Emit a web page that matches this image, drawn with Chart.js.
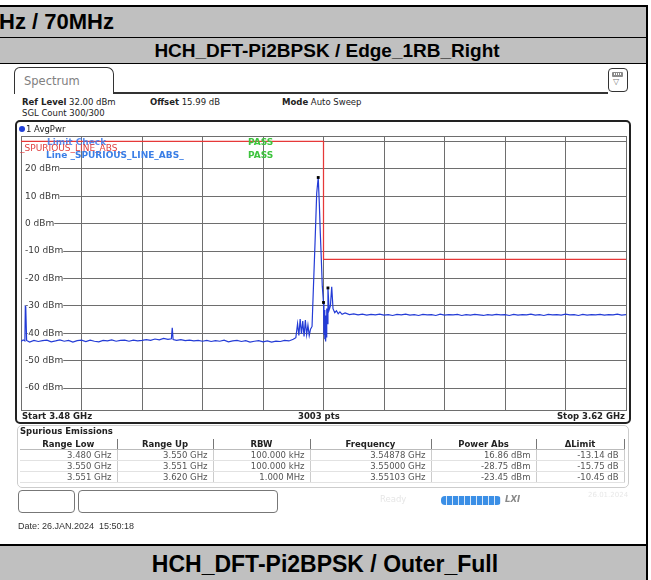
<!DOCTYPE html>
<html>
<head>
<meta charset="utf-8">
<script src="https://cdn.jsdelivr.net/npm/chart.js@4.4.0/dist/chart.umd.min.js"></script>
<style>
  body { margin: 0; width: 651px; height: 580px; background: #fff; overflow: hidden; position: relative; font-family: "Liberation Sans", Arial, sans-serif; }
  .abs { position: absolute; }
  .band { position: absolute; left: 0; width: 646px; background: #c0c0c0; font-weight: bold; color: #000; white-space: nowrap; }
  .rs { font-family: "DejaVu Sans", Verdana, sans-serif; font-size: 8.5px; color: #222; white-space: nowrap; }
  .rs b { font-weight: bold; }
  table.spur { position: absolute; left: 20px; top: 439px; width: 604px; border-collapse: collapse; table-layout: fixed;
    font-family: "DejaVu Sans", Verdana, sans-serif; font-size: 8.5px; }
  table.spur th { font-weight: bold; color: #222; height: 10px; line-height: 10px; padding: 0; border-right: 1px solid #777; border-bottom: 1px solid #bbb; text-align: center; }
  table.spur td { color: #555; height: 10px; line-height: 10px; padding: 0 5px 0 0; text-align: right; border-right: 1px solid #ccc; border-bottom: 1px solid #e2e2e2; }
</style>
</head>
<body>
<!-- report table frame -->
<div class="abs" style="left:0;top:5px;width:648px;height:2px;background:#000"></div>
<div class="band" style="top:7px;height:30px;font-size:22px;line-height:30px;">
  <span style="position:absolute;left:-1px;">Hz / 70MHz</span>
</div>
<div class="abs" style="left:0;top:37px;width:648px;height:1px;background:#000"></div>
<div class="band" style="top:38px;height:25px;font-size:19px;line-height:26px;text-align:center;padding-left:8px;width:638px;">HCH_DFT-Pi2BPSK / Edge_1RB_Right</div>
<div class="abs" style="left:0;top:63px;width:648px;height:1px;background:#000"></div>
<div class="abs" style="left:0;top:544px;width:648px;height:2px;background:#000"></div>
<div class="band" style="top:546px;height:34px;font-size:23px;line-height:36px;text-align:center;padding-left:4px;width:642px;">HCH_DFT-Pi2BPSK / Outer_Full</div>
<div class="abs" style="left:646px;top:5px;width:2px;height:575px;background:#000"></div>

<!-- analyzer header -->
<div class="abs" style="left:14px;top:67px;width:98px;height:26px;border:1.5px solid #333;border-bottom:none;border-radius:6px 7px 0 0;"></div>
<div class="abs rs" style="left:24px;top:74px;font-size:11.5px;color:#808080;">Spectrum</div>
<div class="abs" style="left:113px;top:92px;width:495px;height:1.5px;background:#333"></div>
<div class="abs" style="left:608px;top:68px;width:18px;height:22px;border:1.5px solid #333;border-radius:4px;"></div>
<div class="abs" style="left:612px;top:72px;width:11px;height:5px;background:#8a8a8a;border-radius:1px;"></div>
<div class="abs" style="left:614px;top:73px;width:7px;height:2px;background:repeating-linear-gradient(90deg,#fff 0 1px,transparent 1px 2px);"></div>
<div class="abs" style="left:613px;top:77px;font-size:8px;color:#777;font-family:'DejaVu Sans';">&#9661;</div>

<div class="abs rs" style="left:22px;top:97px;"><b>Ref Level</b> 32.00 dBm</div>
<div class="abs rs" style="left:150px;top:97px;"><b>Offset</b> 15.99 dB</div>
<div class="abs rs" style="left:282px;top:97px;"><b>Mode</b> Auto Sweep</div>
<div class="abs rs" style="left:22px;top:108px;">SGL Count 300/300</div>

<!-- plot frame -->
<div class="abs" style="left:15px;top:120px;width:612px;height:300px;border:2px solid #222;border-radius:5px;"></div>
<div class="abs" style="left:17px;top:122px;width:613px;height:301px;">
  <canvas id="spec" width="613" height="301"></canvas>
</div>
<div class="abs" style="left:19px;top:126px;width:6px;height:6px;border-radius:50%;background:#1f3fd8;"></div>
<div class="abs rs" style="left:26px;top:124px;">1 AvgPwr</div>
<div class="abs rs" style="left:47px;top:137px;color:rgba(60,120,235,0.85);font-weight:bold;font-size:9px;">Limit Check</div>
<div class="abs rs" style="left:20px;top:143px;color:#e04040;font-size:9px;">_SPURIOUS_LINE_ABS_</div>
<div class="abs rs" style="left:46px;top:150px;color:#3a7ee6;font-weight:bold;font-size:9px;">Line _SPURIOUS_LINE_ABS_</div>
<div class="abs rs" style="left:248px;top:137px;color:#3ec43e;font-weight:bold;font-size:9px;">PASS</div>
<div class="abs rs" style="left:248px;top:150px;color:#3ec43e;font-weight:bold;font-size:9px;">PASS</div>
<div class="abs rs" style="left:22px;top:411px;font-weight:bold;">Start 3.48 GHz</div>
<div class="abs rs" style="left:298px;top:411px;font-weight:bold;">3003 pts</div>
<div class="abs rs" style="left:540px;top:411px;width:85px;text-align:right;font-weight:bold;">Stop 3.62 GHz</div>

<!-- spurious table -->
<div class="abs" style="left:17px;top:425px;width:610px;height:61px;border:1px solid #ccc;border-radius:5px;"></div>
<div class="abs rs" style="left:20px;top:426px;font-weight:bold;">Spurious Emissions</div>
<table class="spur" id="spurTable">
  <colgroup><col style="width:97px"><col style="width:96px"><col style="width:97px"><col style="width:121px"><col style="width:105px"><col style="width:88px"></colgroup>
  <thead><tr id="spurHead"></tr></thead>
  <tbody id="spurBody"></tbody>
</table>

<!-- status bar -->
<div class="abs" style="left:18px;top:490px;width:55px;height:21px;border:1px solid #777;border-radius:4px;"></div>
<div class="abs" style="left:78px;top:490px;width:198px;height:21px;border:1px solid #777;border-radius:4px;"></div>
<div class="abs rs" style="left:380px;top:494px;color:#e6e6e6;">Ready</div>
<div class="abs" style="left:441px;top:496px;width:60px;height:9px;border-radius:4px;background:repeating-linear-gradient(90deg,#3b8fe6 0 5px,#d8e8fa 5px 6px);"></div>
<div class="abs rs" style="left:505px;top:494px;color:#888;font-weight:bold;font-style:italic;">LXI</div>
<div class="abs rs" style="left:588px;top:491px;color:#e8e8e8;font-size:7px;">26.01.2024</div>

<div class="abs" style="left:18px;top:521px;font-size:9px;color:#333;">Date: 26.JAN.2024&nbsp;&nbsp;15:50:18</div>

<script>
// trace 1 (AvgPwr), frequency in MHz, level in dBm
const traceMHz = [
  3480, 3480.5, 3480.9, 3481.0, 3481.1, 3481.3,
  3482, 3483, 3484, 3485, 3486, 3487, 3488, 3489, 3490, 3491,
  3492, 3493, 3494, 3495, 3496, 3497, 3498, 3499, 3500, 3501,
  3502, 3503, 3504, 3505, 3506, 3507, 3508, 3509, 3510, 3511,
  3512, 3513, 3514, 3514.8, 3515.0, 3515.2,
  3516, 3517, 3518, 3519, 3520, 3521, 3522, 3523, 3524, 3525,
  3526, 3527, 3528, 3529, 3530, 3531, 3532, 3533, 3534, 3535,
  3536, 3537, 3538, 3539, 3540, 3541, 3542, 3543,
  3543.6, 3544.0, 3544.3, 3544.6, 3544.9, 3545.2, 3545.5, 3545.8, 3546.1, 3546.4,
  3546.7, 3547.0, 3547.35, 3547.65, 3548.04, 3548.43, 3548.78, 3549.03, 3549.26, 3549.5,
  3549.72, 3550.0, 3550.1, 3550.2, 3550.3, 3550.4, 3550.5, 3550.6, 3550.7, 3550.8,
  3550.9, 3551.03, 3551.3, 3551.6, 3551.9, 3552.2, 3552.6, 3553.0, 3553.4, 3553.8,
  3554.3,
  3555, 3556, 3557, 3558, 3559, 3560, 3561, 3562, 3563, 3564,
  3565, 3566, 3567, 3568, 3569, 3570, 3571, 3572, 3573, 3574,
  3575, 3576, 3577, 3578, 3579, 3580, 3581, 3582, 3583, 3584,
  3585, 3586, 3587, 3588, 3589, 3590, 3591, 3592, 3593, 3594,
  3595, 3596, 3597, 3598, 3599, 3600, 3601, 3602, 3603, 3604,
  3605, 3606, 3607, 3608, 3609, 3610, 3611, 3612, 3613, 3614,
  3615, 3616, 3617, 3618, 3619, 3620
];
const traceDbm = [
  -43.0, -42.4, -42.8, -30.2, -30.4, -42.6,
  -43.2, -42.6, -43.0, -42.7, -42.5, -43.1, -42.8, -42.4, -42.9, -42.6,
  -43.2, -42.7, -42.5, -43.0, -42.5, -42.9, -43.1, -42.6, -42.8, -42.4,
  -42.9, -42.6, -42.5, -42.9, -42.5, -42.8, -42.6, -42.3, -42.6, -42.1,
  -42.4, -41.9, -42.2, -42.0, -38.0, -42.3,
  -42.6, -42.3, -42.7, -42.5, -42.8, -42.6, -42.9, -42.6, -43.0, -42.7,
  -42.9, -42.5, -43.1, -42.8, -42.6, -43.0, -42.7, -43.2, -42.9, -42.7,
  -43.1, -42.8, -43.2, -42.9, -43.0, -42.6, -42.8, -42.2,
  -41.6, -36.5, -40.8, -34.8, -40.2, -35.5, -41.2, -35.2, -40.5, -37.0,
  -40.8, -38.5, -37.5, -24.0, -7.0, 11.2, 16.86, 7.5, -3.4, -13.1,
  -22.8, -28.75, -40.5, -31.5, -42.2, -33.5, -43.0, -34.5, -41.5, -31.0,
  -36.5, -23.45, -31.5, -30.0, -23.0, -31.0, -32.5, -31.8, -32.9, -32.2,
  -33.1,
  -32.6, -33.2, -32.9, -33.3, -33.0, -33.4, -33.1, -33.3, -33.0, -33.4,
  -33.2, -33.5, -33.1, -33.3, -33.0, -33.4, -33.2, -33.5, -33.1, -33.3,
  -33.2, -33.5, -33.0, -33.4, -33.2, -33.3, -33.1, -33.5, -33.2, -33.4,
  -33.1, -33.3, -33.5, -33.2, -33.4, -33.1, -33.3, -33.2, -33.5, -33.1,
  -33.4, -33.2, -33.3, -33.0, -33.4, -33.2, -33.5, -33.1, -33.3, -33.2,
  -33.4, -33.0, -33.3, -33.2, -33.5, -33.1, -33.4, -33.2, -33.3, -33.1,
  -33.4, -33.2, -33.3, -33.0, -33.4, -33.2
];

// limit line _SPURIOUS_LINE_ABS_
const limitMHz = [3480, 3550, 3550, 3620];
const limitDbm = [30, 30, -13, -13];

// peak markers
const markerMHz = [3548.78, 3550.00, 3551.03];
const markerDbm = [16.86, -28.75, -23.45];

// grid
const xGridMHz = [3480, 3494, 3508, 3522, 3536, 3550, 3564, 3578, 3592, 3606, 3620];
const yGridDbm = [-60, -50, -40, -30, -20, -10, 0, 10, 20, 30];
const yTickLabels = ['-60 dBm', '-50 dBm', '-40 dBm', '-30 dBm', '-20 dBm', '-10 dBm', '0 dBm', '10 dBm', '20 dBm', ''];

// spurious emissions table
const tableHead = ['Range Low', 'Range Up', 'RBW', 'Frequency', 'Power Abs', '\u0394Limit'];
const rangeLow = ['3.480 GHz', '3.550 GHz', '3.551 GHz'];
const rangeUp = ['3.550 GHz', '3.551 GHz', '3.620 GHz'];
const rbw = ['100.000 kHz', '100.000 kHz', '1.000 MHz'];
const peakFreq = ['3.54878 GHz', '3.55000 GHz', '3.55103 GHz'];
const powerAbs = ['16.86 dBm', '-28.75 dBm', '-23.45 dBm'];
const deltaLimit = ['-13.14 dB', '-15.75 dB', '-10.45 dB'];

document.getElementById('spurHead').innerHTML = tableHead.map(h => '<th>' + h + '</th>').join('');
document.getElementById('spurBody').innerHTML = rangeLow.map((v, i) =>
  '<tr><td>' + [v, rangeUp[i], rbw[i], peakFreq[i], powerAbs[i], deltaLimit[i]].join('</td><td>') + '</td></tr>').join('');

const gridColor = '#6e6e6e';

const framePlugin = {
  id: 'frame',
  beforeDatasetsDraw(chart) {
    const a = chart.chartArea, c = chart.ctx;
    c.save();
    c.strokeStyle = gridColor;
    c.lineWidth = 1;
    c.strokeRect(Math.round(a.left) + 0.5, Math.round(a.top) + 0.5, Math.round(a.right - a.left), Math.round(a.bottom - a.top));
    c.restore();
  }
};

var ctx = document.getElementById('spec').getContext('2d');
var chart = new Chart(ctx, {
  type: 'line',
  data: {
    datasets: [{
      label: 'Limit',
      data: limitMHz.map((f, i) => ({x: f, y: limitDbm[i]})),
      borderColor: 'rgb(230,56,56)',
      borderWidth: 1.25,
      pointRadius: 0,
      order: 3
    }, {
      label: '1 AvgPwr',
      data: traceMHz.map((f, i) => ({x: f, y: traceDbm[i]})),
      borderColor: 'rgb(36,60,214)',
      borderWidth: 1.2,
      pointRadius: 0,
      order: 2
    }, {
      label: 'Markers',
      data: markerMHz.map((f, i) => ({x: f, y: markerDbm[i]})),
      showLine: false,
      pointStyle: 'rect',
      pointRadius: 2,
      backgroundColor: '#000',
      borderColor: '#000',
      borderWidth: 0,
      order: 1
    }]
  },
  options: {
    responsive: false,
    animation: false,
    layout: {padding: {left: 3, right: 3, top: 14, bottom: 13}},
    plugins: {legend: {display: false}, tooltip: {enabled: false}},
    scales: {
      x: {
        type: 'linear', min: 3480, max: 3620,
        afterBuildTicks: s => { s.ticks = xGridMHz.map(v => ({value: v})); },
        afterFit: s => { s.height = 0; },
        ticks: {display: false},
        grid: {color: gridColor, drawTicks: false},
        border: {display: false}
      },
      y: {
        min: -68, max: 32,
        afterBuildTicks: s => { s.ticks = yGridDbm.map(v => ({value: v})); },
        afterFit: s => { s.width = 0; },
        ticks: {
          mirror: true, padding: 4,
          color: '#3a3a3a',
          font: {family: 'DejaVu Sans', size: 9},
          callback: (v) => yTickLabels[yGridDbm.indexOf(v)],
          showLabelBackdrop: c => c.tick && c.tick.value !== 30,
          backdropColor: '#fff',
          backdropPadding: {left: 4, right: 0, top: 0, bottom: 0}
        },
        grid: {color: gridColor, drawTicks: false},
        border: {display: false}
      }
    }
  },
  plugins: [framePlugin]
});
</script>
</body>
</html>
